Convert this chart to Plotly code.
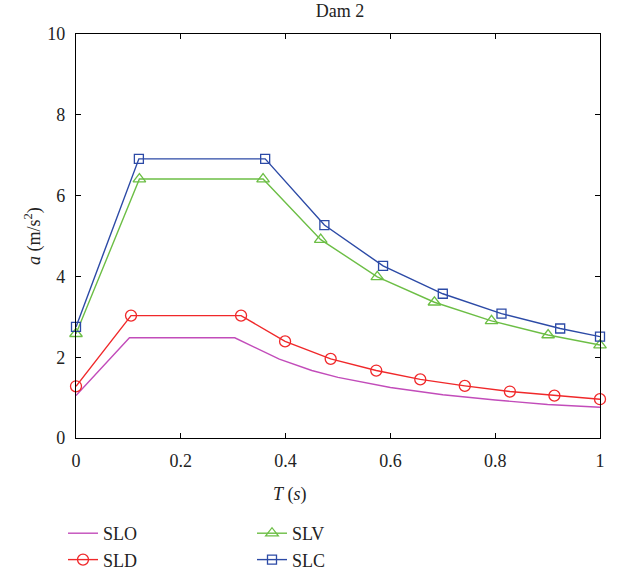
import plotly.graph_objects as go

# Data
slo_T = [0.0, 0.102, 0.303, 0.388, 0.45, 0.5, 0.6, 0.7, 0.8, 0.9, 1.0]
slo_a = [1.05, 2.48, 2.48, 1.95, 1.67, 1.50, 1.25, 1.07, 0.94, 0.83, 0.76]

sld_T = [0.0, 0.105, 0.315, 0.399, 0.486, 0.573, 0.657, 0.742, 0.828, 0.913, 1.0]
sld_a = [1.28, 3.03, 3.03, 2.39, 1.96, 1.67, 1.45, 1.29, 1.15, 1.05, 0.96]

slv_T = [0.0, 0.121, 0.357, 0.467, 0.575, 0.684, 0.793, 0.901, 1.0]
slv_a = [2.58, 6.41, 6.41, 4.91, 3.99, 3.36, 2.90, 2.55, 2.30]

slc_T = [0.0, 0.120, 0.361, 0.474, 0.586, 0.700, 0.812, 0.924, 1.0]
slc_a = [2.75, 6.91, 6.91, 5.27, 4.26, 3.57, 3.08, 2.71, 2.51]

x_ticks = [0, 0.2, 0.4, 0.6, 0.8, 1]
x_tick_labels = ["0", "0.2", "0.4", "0.6", "0.8", "1"]
y_ticks = [0, 2, 4, 6, 8, 10]
y_tick_labels = ["0", "2", "4", "6", "8", "10"]

FONT = "Liberation Serif"
FS = 18
W, H = 617, 573
ML, MR, MT, MB = 76, 17, 34, 135
PW, PH = W - ML - MR, H - MT - MB


def px_to_paper(px, py):
    return (px - ML) / PW, (H - MB - py) / PH


fig = go.Figure()
fig.add_trace(go.Scatter(x=slo_T, y=slo_a, name="SLO", mode="lines",
                         line=dict(color="#C24CBA", width=1.4), legend="legend", cliponaxis=False))
fig.add_trace(go.Scatter(x=sld_T, y=sld_a, name="SLD", mode="lines+markers",
                         line=dict(color="#F0282A", width=1.4),
                         marker=dict(symbol="circle-open", size=11, color="#F0282A", line=dict(width=1.3)),
                         legend="legend", cliponaxis=False))
fig.add_trace(go.Scatter(x=slv_T, y=slv_a, name="SLV", mode="lines+markers",
                         line=dict(color="#6CBE45", width=1.4),
                         marker=dict(symbol="triangle-up-open", size=11, color="#6CBE45", line=dict(width=1.3)),
                         legend="legend2", cliponaxis=False))
fig.add_trace(go.Scatter(x=slc_T, y=slc_a, name="SLC", mode="lines+markers",
                         line=dict(color="#2C4AA6", width=1.4),
                         marker=dict(symbol="square-open", size=9, color="#2C4AA6", line=dict(width=1.3)),
                         legend="legend2", cliponaxis=False))

axis_common = dict(showgrid=False, zeroline=False, showline=True, linecolor="black", linewidth=1.2,
                   mirror="ticks", ticks="inside", ticklen=5, tickcolor="black", tickwidth=1,
                   tickfont=dict(family=FONT, size=FS, color="#222"))

fig.update_xaxes(range=[0, 1], tickvals=x_ticks, ticktext=x_tick_labels, ticklabelstandoff=6, **axis_common)
fig.update_yaxes(range=[0, 10], tickvals=y_ticks, ticktext=y_tick_labels, ticklabelstandoff=6, **axis_common)

legend_common = dict(font=dict(family=FONT, size=FS, color="#222"), bgcolor="rgba(0,0,0,0)",
                     xref="container", yref="container", xanchor="left", yanchor="top",
                     orientation="v", tracegroupgap=0, itemwidth=30)

tx, ty = px_to_paper(290, 495)
ax_, ay_ = px_to_paper(33, 236)

fig.update_layout(
    width=W, height=H,
    margin=dict(l=ML, r=MR, t=MT, b=MB, autoexpand=False),
    paper_bgcolor="white", plot_bgcolor="white",
    font=dict(family=FONT, size=FS, color="#222"),
    title=dict(text="Dam 2", x=340 / W, xanchor="center", y=1 - 11 / H, yanchor="middle",
               xref="container", yref="container", font=dict(family=FONT, size=FS, color="#222")),
    legend=dict(x=63 / W, y=1 - 515 / H, **legend_common),
    legend2=dict(x=252 / W, y=1 - 515 / H, **legend_common),
    annotations=[
        dict(text="<i>T</i> (<i>s</i>)", x=tx, y=ty, xref="paper", yref="paper", showarrow=False,
             xanchor="center", yanchor="middle", font=dict(family=FONT, size=FS, color="#222")),
        dict(text="<i>a</i> (m/s<sup>2</sup>)", x=ax_, y=ay_, xref="paper", yref="paper", showarrow=False,
             xanchor="center", yanchor="middle", textangle=-90,
             font=dict(family=FONT, size=FS, color="#222")),
    ],
)

fig.write_html("out.html")
